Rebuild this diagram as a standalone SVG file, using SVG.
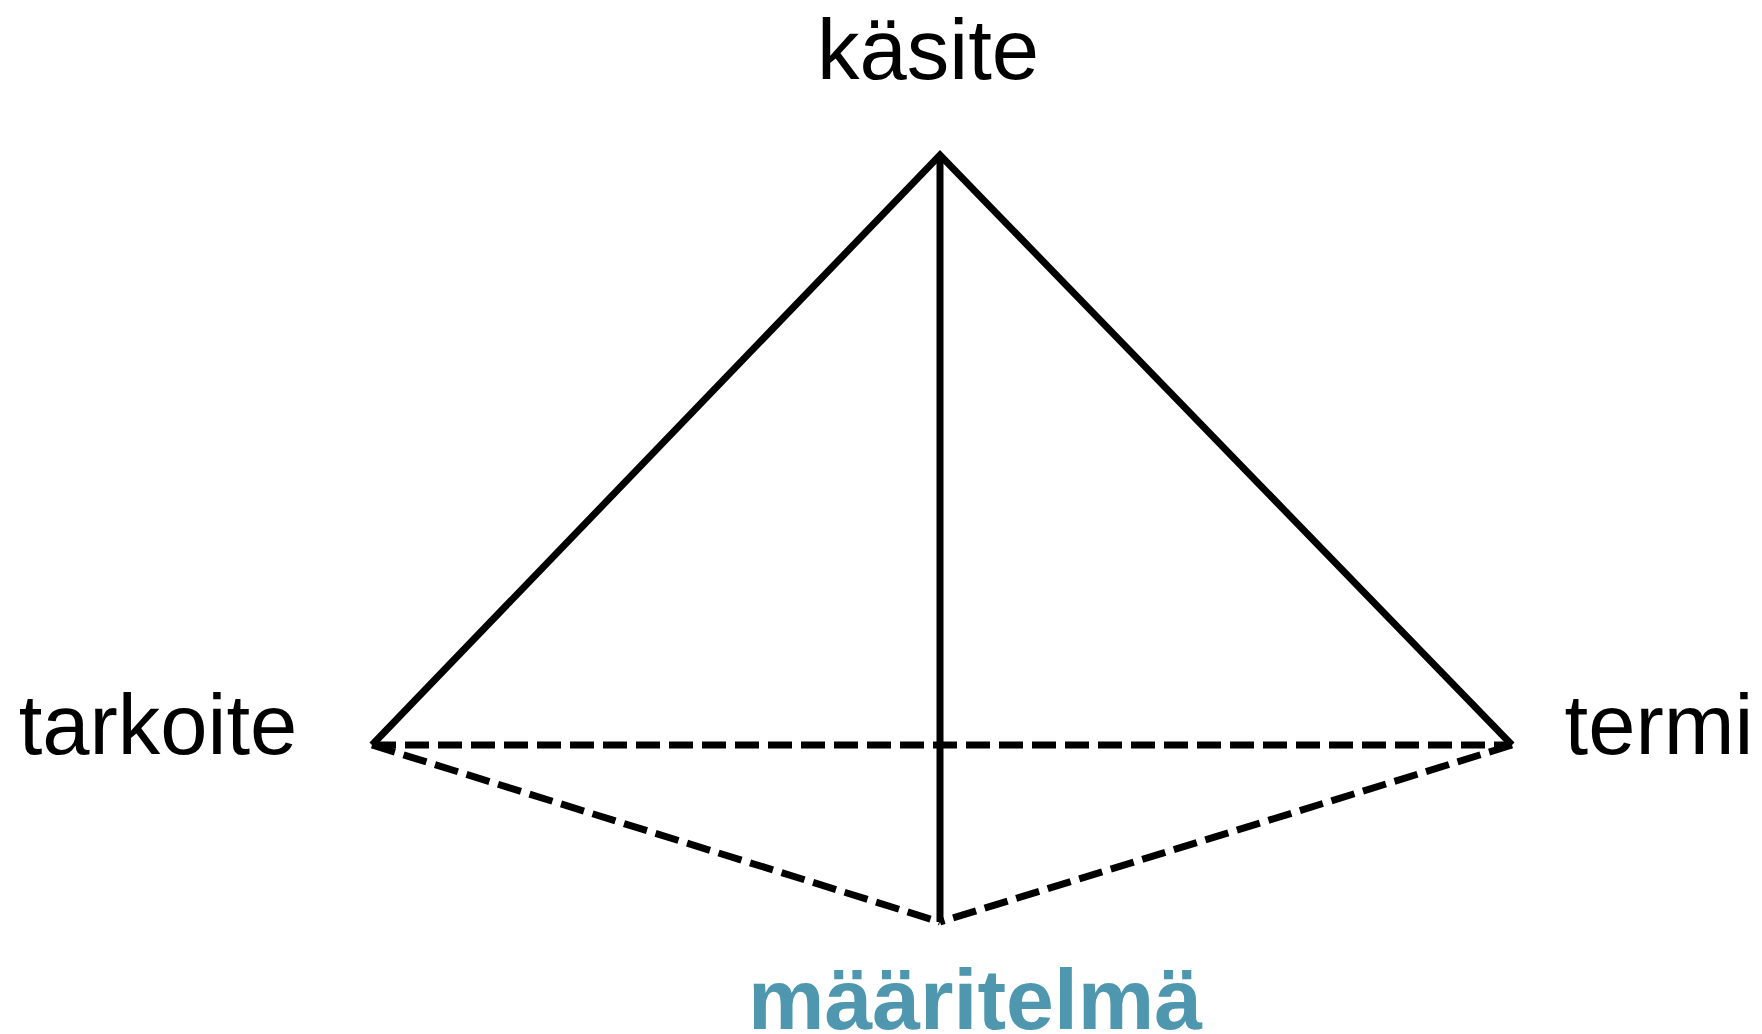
<svg xmlns="http://www.w3.org/2000/svg" width="1762" height="1034" viewBox="0 0 1762 1034">
<style>
.lbl{font-family:"Liberation Sans",Arial,sans-serif;font-size:85px;fill:#000;text-anchor:middle}
.def{font-family:"Liberation Sans",Arial,sans-serif;font-size:86px;font-weight:bold;fill:#4e97af;text-anchor:middle}
.solid{stroke:#000;stroke-width:7;fill:none;stroke-linejoin:miter}
.dash{stroke:#000;stroke-width:7;fill:none;stroke-dasharray:24 9}
</style>
<rect width="1762" height="1034" fill="#fff"/>
<g id="connectors">
<line class="dash" x1="372" y1="745" x2="1512" y2="745"/>
<line class="dash" x1="372" y1="745" x2="940" y2="922"/>
<line class="dash" x1="1512" y1="745" x2="940" y2="922"/>
<polyline class="solid" points="372,745 940,155 1512,745"/>
<line class="solid" x1="940" y1="155" x2="940" y2="922"/>
</g>
<g id="kasite"><text class="lbl" x="928" y="79">käsite</text></g>
<g id="tarkoite"><text class="lbl" x="158" y="754">tarkoite</text></g>
<g id="termi"><text class="lbl" x="1659" y="754">termi</text></g>
<g id="maaritelma"><text class="def" x="975" y="1029">määritelmä</text></g>
</svg>
